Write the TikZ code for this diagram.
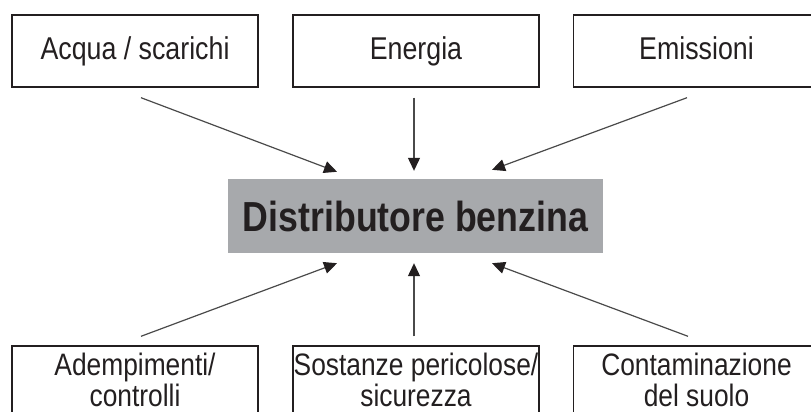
\documentclass[tikz,border=0pt]{standalone}
\usepackage{fontspec}
\setmainfont[FakeStretch=0.85]{Liberation Sans}
\usetikzlibrary{arrows.meta,calc}
\definecolor{boxgray}{HTML}{A7A9AC}
\definecolor{txt}{HTML}{231F20}
\definecolor{linegray}{HTML}{4A4A4A}
\tikzset{
  topbox/.style={draw=txt, line width=1.4pt, minimum width=246pt, minimum height=72pt,
    inner sep=0pt, text=txt, font=\fontsize{31.5}{31.5}\selectfont,
    text height=23.5pt, text depth=6.7pt},
  botbox/.style={draw=txt, line width=1.4pt, minimum width=246pt, minimum height=72pt,
    inner sep=0pt, text=txt, align=center, font=\fontsize{31}{31}\selectfont,
    text depth=4.5pt},
  mainbox/.style={fill=boxgray, minimum width=375pt, minimum height=74pt, inner sep=0pt,
    text=txt, font=\bfseries\fontsize{42}{42}\selectfont, text height=30.6pt, text depth=0pt},
  arr/.style={draw=linegray, line width=1.2pt,
    -{Triangle[length=13pt,width=12pt,color=txt]}}
}
\begin{document}
\begin{tikzpicture}[x=1pt,y=-1pt]
\useasboundingbox (0,0) rectangle (811,412);
\clip (0,0) rectangle (811,412);
% top boxes
\node[topbox] (acqua) at (135,51) {Acqua / scarichi};
\node[topbox] (energia) at (416,51) {Energia};
\node[topbox] (emissioni) at (696.5,51) {Emissioni};
% center
\node[mainbox] (distr) at (415.5,216) {Distributore benzina};
% bottom boxes
\node[botbox] (adempimenti) at (135,382) {Adempimenti/\\controlli};
\node[botbox] (sostanze) at (416,382) {Sostanze pericolose/\\sicurezza};
\node[botbox] (contaminazione) at (696.5,382) {Contaminazione\\del suolo};
% connector ends
\coordinate (s1) at ($(acqua.south)+(6,10)$);
\coordinate (s2) at ($(energia.south)+(-2,10)$);
\coordinate (s3) at ($(emissioni.south)+(-9.5,10)$);
\coordinate (t1) at ($(distr.north)+(-78.5,-7)$);
\coordinate (t2) at ($(distr.north)+(-1.5,-8)$);
\coordinate (t3) at ($(distr.north)+(76.5,-9)$);
\coordinate (b1) at ($(adempimenti.north)+(6,-9)$);
\coordinate (b2) at ($(sostanze.north)+(-2,-9)$);
\coordinate (b3) at ($(contaminazione.north)+(-8.5,-9)$);
\coordinate (u1) at ($(distr.south)+(-78.5,10)$);
\coordinate (u2) at ($(distr.south)+(-1.5,10)$);
\coordinate (u3) at ($(distr.south)+(76.5,10)$);
% arrows
\draw[arr] (s1) -- (t1);
\draw[arr] (s2) -- (t2);
\draw[arr] (s3) -- (t3);
\draw[arr] (b1) -- (u1);
\draw[arr] (b2) -- (u2);
\draw[arr] (b3) -- (u3);
\end{tikzpicture}
\end{document}
